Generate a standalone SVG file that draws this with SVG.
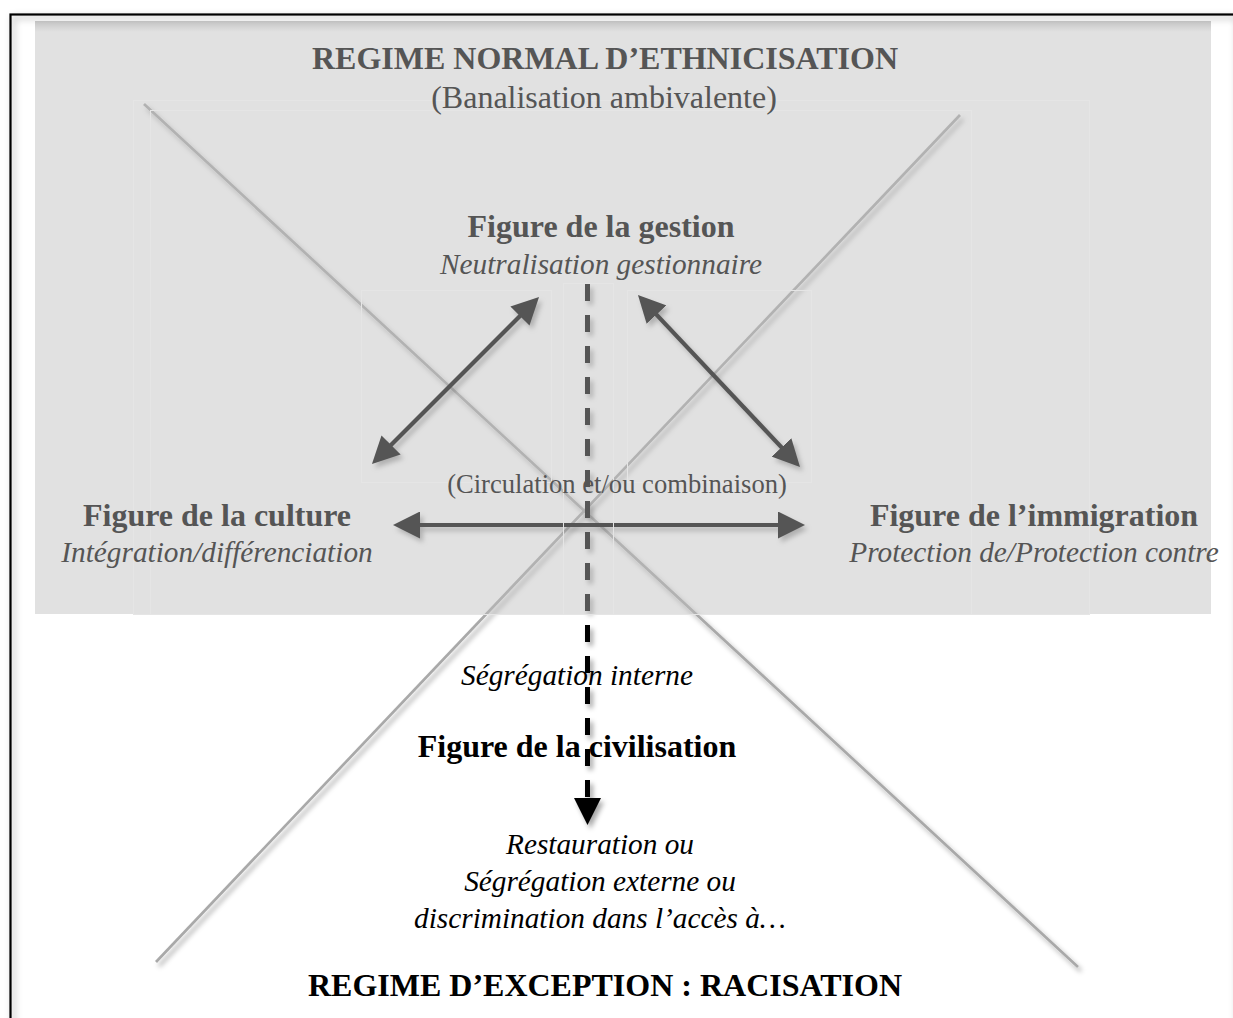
<svg xmlns="http://www.w3.org/2000/svg" width="1233" height="1018" viewBox="0 0 1233 1018">
<defs>
<style>
text{font-family:"Liberation Serif","Times New Roman",serif;fill:#000;text-anchor:middle}
.g text{fill:#555}
.b{font-weight:bold;font-size:32px}
.r{font-size:32px}
.i{font-style:italic;font-size:29.3px}
.c{font-size:26.6px}
.x{stroke:#a9a9a9;stroke-width:2.7;fill:none}
.a{stroke:#000;stroke-width:4.2;fill:none;marker-start:url(#ah);marker-end:url(#ah)}
.faint{fill:none;stroke:#e5e5e5;stroke-width:1}
</style>
<filter id="sh" filterUnits="userSpaceOnUse" x="0" y="0" width="1233" height="1018">
<feDropShadow dx="3" dy="4" stdDeviation="2.5" flood-color="#000" flood-opacity="0.35"/>
</filter>
<filter id="fs" filterUnits="userSpaceOnUse" x="0" y="0" width="1233" height="1018">
<feDropShadow dx="3" dy="3" stdDeviation="3.5" flood-color="#000" flood-opacity="0.35"/>
</filter>
<linearGradient id="tg" x1="0" y1="0" x2="0" y2="1">
<stop offset="0" stop-color="#000" stop-opacity="0.12"/>
<stop offset="1" stop-color="#000" stop-opacity="0"/>
</linearGradient>
<marker id="ah" viewBox="0 0 27 27" refX="22" refY="13.5" markerWidth="27" markerHeight="27" markerUnits="userSpaceOnUse" orient="auto-start-reverse">
<path d="M0,0 L27,13.5 L0,27 z" fill="#000"/>
</marker>
<marker id="ahe" viewBox="0 0 27 27" refX="22" refY="13.5" markerWidth="27" markerHeight="27" markerUnits="userSpaceOnUse" orient="auto">
<path d="M0,0 L27,13.5 L0,27 z" fill="#000"/>
</marker>
</defs>
<rect width="1233" height="1018" fill="#fff"/>
<g id="frame">
<rect x="10.5" y="14.5" width="1224" height="1100" fill="none" stroke="#000" stroke-width="2.2" filter="url(#fs)"/>
</g>
<g id="cross" filter="url(#sh)">
<line class="x" x1="144" y1="104" x2="1078" y2="967"/>
<line class="x" x1="960" y1="115" x2="156" y2="962"/>
</g>
<g id="connectors" filter="url(#sh)">
<line class="a" x1="375.5" y1="460.5" x2="535.5" y2="300.5"/>
<line class="a" x1="641.4" y1="298.6" x2="796.6" y2="463.4"/>
<line class="a" x1="398" y1="525" x2="800" y2="525"/>
<line x1="587.5" y1="284" x2="587.5" y2="820" stroke="#000" stroke-width="5" stroke-dasharray="17 14" marker-end="url(#ahe)"/>
</g>
<g id="segregation-interne">
<text class="i" x="577" y="685">Ségrégation interne</text>
</g>
<g id="figure-civilisation">
<text class="b" x="577" y="757">Figure de la civilisation</text>
</g>
<g id="restauration">
<text class="i" x="600" y="854">Restauration ou</text>
<text class="i" x="600" y="891">Ségrégation externe ou</text>
<text class="i" x="600" y="928">discrimination dans l’accès à…</text>
</g>
<g id="regime-exception">
<text class="b" x="605" y="996">REGIME D’EXCEPTION : RACISATION</text>
</g>
<g id="overlay">
<rect x="35" y="21" width="1176" height="593" fill="#bcbcbc" fill-opacity="0.45"/>
<rect x="35" y="21" width="1176" height="11" fill="url(#tg)"/>
<rect class="faint" x="133.5" y="100.5" width="956" height="514"/>
<rect class="faint" x="150.5" y="110.5" width="821" height="504"/>
<rect class="faint" x="361.5" y="290.5" width="190" height="192"/>
<rect class="faint" x="627.5" y="290.5" width="184" height="192"/>
<rect class="faint" x="563.5" y="283.5" width="50" height="331"/>
</g>
<g id="regime-normal" class="g">
<text class="b" x="605" y="69">REGIME NORMAL D’ETHNICISATION</text>
<text class="r" x="604" y="108">(Banalisation ambivalente)</text>
</g>
<g id="figure-gestion" class="g">
<text class="b" x="601" y="237">Figure de la gestion</text>
<text class="i" x="601" y="274">Neutralisation gestionnaire</text>
</g>
<g id="circulation" class="g">
<text class="c" x="617" y="493">(Circulation et/ou combinaison)</text>
</g>
<g id="figure-culture" class="g">
<text class="b" x="217" y="526">Figure de la culture</text>
<text class="i" x="217" y="562">Intégration/différenciation</text>
</g>
<g id="figure-immigration" class="g">
<text class="b" x="1034" y="526">Figure de l’immigration</text>
<text class="i" x="1034" y="562">Protection de/Protection contre</text>
</g>
</svg>
